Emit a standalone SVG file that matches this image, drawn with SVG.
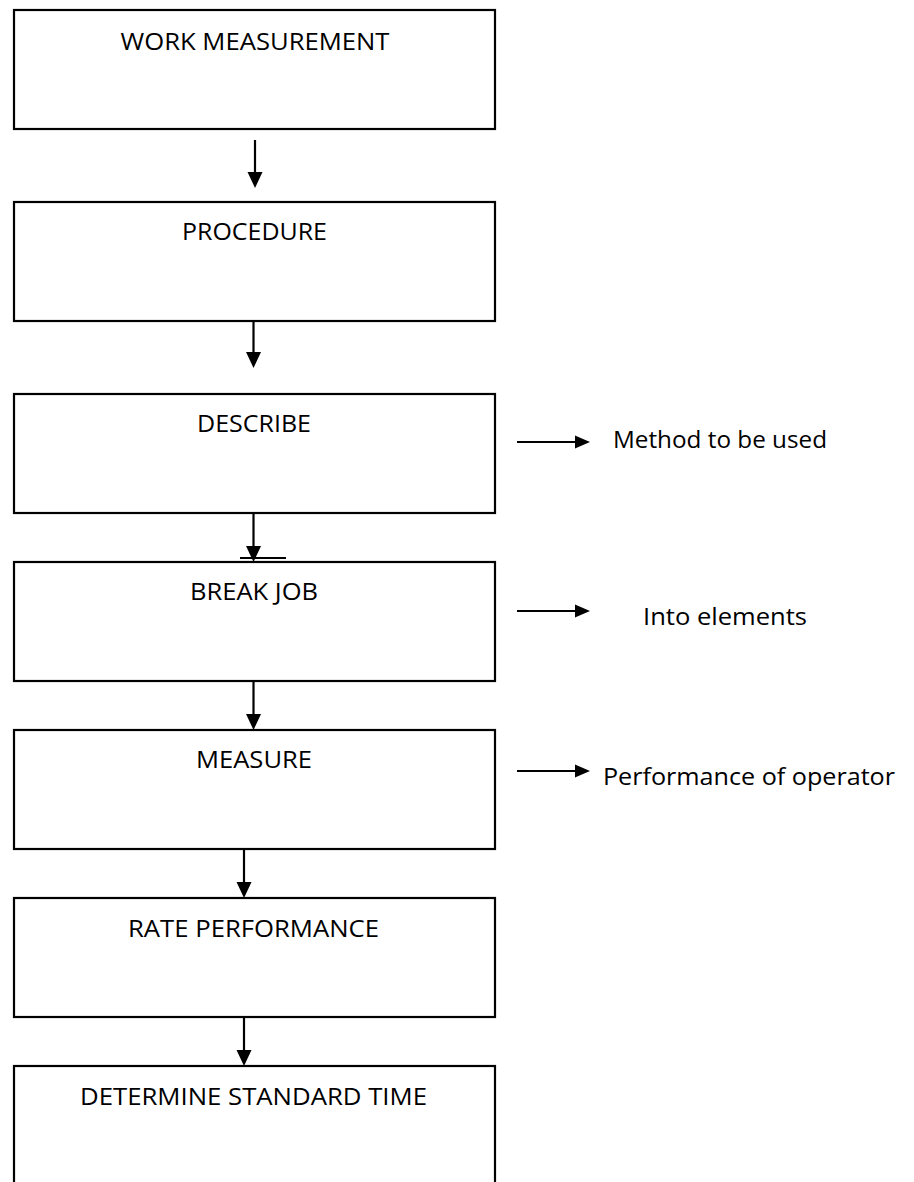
<svg xmlns="http://www.w3.org/2000/svg" width="914" height="1182" viewBox="0 0 914 1182">
<style>
.box{fill:#fff;stroke:#000;stroke-width:2.2}
.t{font-family:"Open Sans","Liberation Sans",sans-serif;font-size:24.5px;fill:#000}
.c{text-anchor:middle}
.ln{stroke:#000;stroke-width:2.2;fill:none}
.hd{fill:#000;stroke:none}
</style>
<rect width="914" height="1182" fill="#fff"/>
<g id="n1"><rect class="box" x="14" y="10" width="481" height="119"/><text class="t c" x="255" y="50" textLength="269" lengthAdjust="spacingAndGlyphs">WORK MEASUREMENT</text></g>
<g id="n2"><rect class="box" x="14" y="202" width="481" height="119"/><text class="t c" x="254.5" y="240" textLength="145" lengthAdjust="spacingAndGlyphs">PROCEDURE</text></g>
<g id="n3"><rect class="box" x="14" y="394" width="481" height="119"/><text class="t c" x="254" y="432" textLength="114" lengthAdjust="spacingAndGlyphs">DESCRIBE</text></g>
<g id="n4"><rect class="box" x="14" y="562" width="481" height="119"/><text class="t c" x="254" y="600" textLength="128" lengthAdjust="spacingAndGlyphs">BREAK JOB</text></g>
<g id="n5"><rect class="box" x="14" y="730" width="481" height="119"/><text class="t c" x="254" y="768" textLength="116" lengthAdjust="spacingAndGlyphs">MEASURE</text></g>
<g id="n6"><rect class="box" x="14" y="898" width="481" height="119"/><text class="t c" x="253.5" y="937" textLength="251" lengthAdjust="spacingAndGlyphs">RATE PERFORMANCE</text></g>
<g id="n7"><rect class="box" x="14" y="1066" width="481" height="130"/><text class="t c" x="253.5" y="1105" textLength="347" lengthAdjust="spacingAndGlyphs">DETERMINE STANDARD TIME</text></g>
<g id="s1"><text class="t" x="613" y="448" textLength="214" lengthAdjust="spacingAndGlyphs">Method to be used</text></g>
<g id="s2"><text class="t" x="643" y="625" textLength="164" lengthAdjust="spacingAndGlyphs">Into elements</text></g>
<g id="s3"><text class="t" x="603" y="785" textLength="292" lengthAdjust="spacingAndGlyphs">Performance of operator</text></g>
<g id="connectors">
<line class="ln" x1="255" y1="140" x2="255" y2="174"/><polygon class="hd" points="247.5,172 262.5,172 255,188"/>
<line class="ln" x1="253.5" y1="322" x2="253.5" y2="354"/><polygon class="hd" points="246,352 261,352 253.5,368"/>
<line class="ln" x1="253.5" y1="514" x2="253.5" y2="548"/><polygon class="hd" points="246,546 261,546 253.5,562"/>
<line class="ln" x1="240" y1="558" x2="286" y2="558"/>
<line class="ln" x1="253.5" y1="682" x2="253.5" y2="716"/><polygon class="hd" points="246,714 261,714 253.5,730"/>
<line class="ln" x1="244" y1="850" x2="244" y2="884"/><polygon class="hd" points="236.5,882 251.5,882 244,898"/>
<line class="ln" x1="244" y1="1018" x2="244" y2="1052"/><polygon class="hd" points="236.5,1050 251.5,1050 244,1066"/>
<line class="ln" x1="517" y1="442" x2="577" y2="442"/><polygon class="hd" points="575,435.5 575,448.5 590,442"/>
<line class="ln" x1="517" y1="611" x2="577" y2="611"/><polygon class="hd" points="575,604.5 575,617.5 590,611"/>
<line class="ln" x1="517" y1="771" x2="577" y2="771"/><polygon class="hd" points="575,764.5 575,777.5 590,771"/>
</g>
</svg>
